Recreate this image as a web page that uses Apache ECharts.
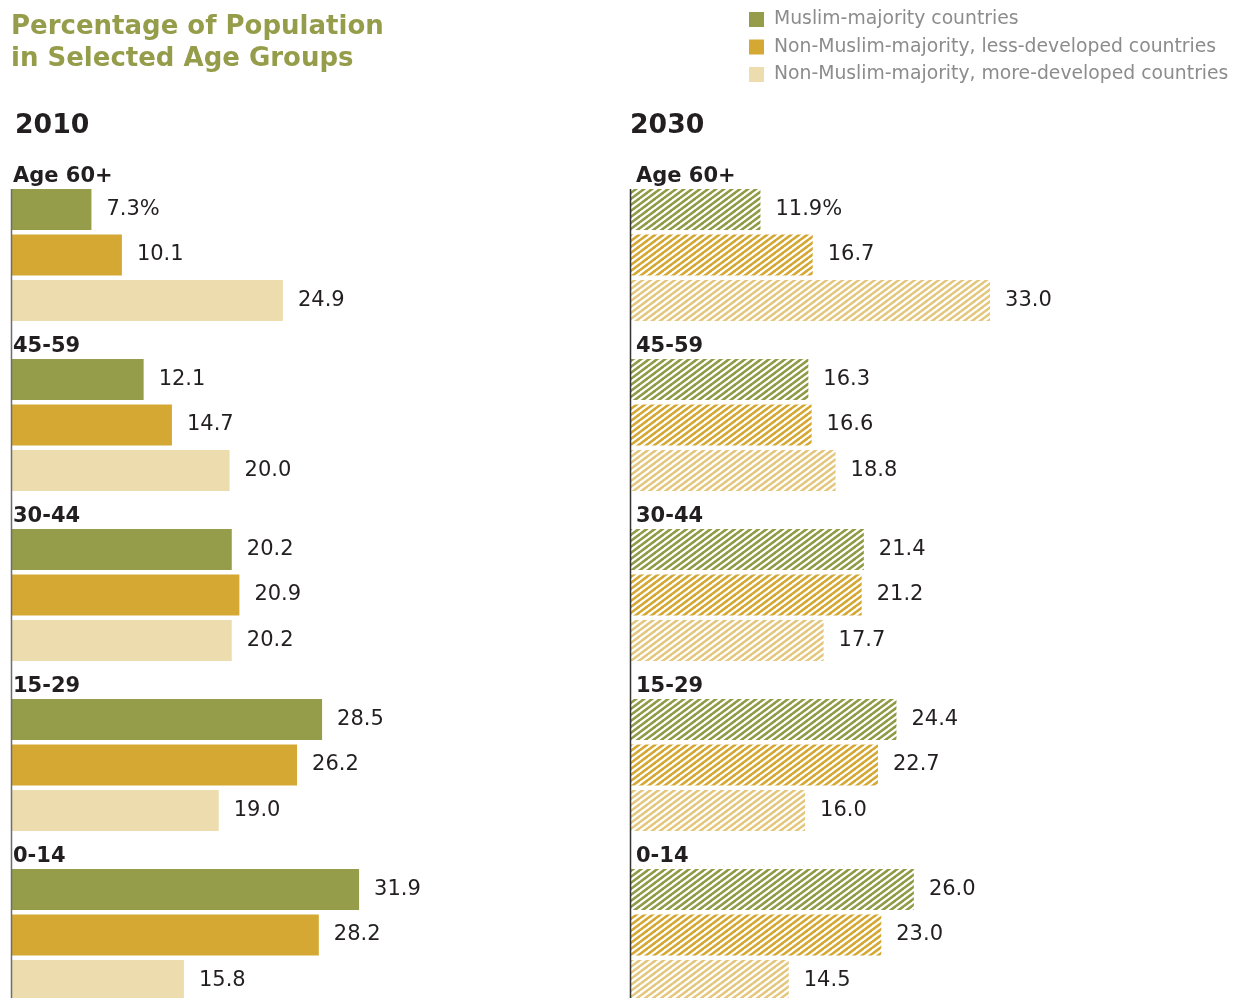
<!DOCTYPE html>
<html><head><meta charset="utf-8">
<script src="https://cdn.jsdelivr.net/npm/echarts@6/dist/echarts.min.js"></script>
<style>html,body{margin:0;padding:0;background:#fff}#c{width:1239px;height:998px}</style>
</head><body><div id="c"></div>
<script>
const ageGroups = ['Age 60+', '45-59', '30-44', '15-29', '0-14'];
const seriesNames = ['Muslim-majority countries', 'Non-Muslim-majority, less-developed countries', 'Non-Muslim-majority, more-developed countries'];
const panelTitles = ['2010', '2030'];
const muslim2010 = [7.3, 12.1, 20.2, 28.5, 31.9];
const lessDev2010 = [10.1, 14.7, 20.9, 26.2, 28.2];
const moreDev2010 = [24.9, 20.0, 20.2, 19.0, 15.8];
const muslim2030 = [11.9, 16.3, 21.4, 24.4, 26.0];
const lessDev2030 = [16.7, 16.6, 21.2, 22.7, 23.0];
const moreDev2030 = [33.0, 18.8, 17.7, 16.0, 14.5];

const FONT = '"DejaVu Sans", Verdana, sans-serif';
const solidColors = ['#959d4a', '#d4a832', '#eddcae'];
const hatchColors = ['#919b46', '#d4a832', '#e4c87f'];

function makeHatch(color) {
  const w = 8, h = 6;
  const c = document.createElement('canvas');
  c.width = w; c.height = h;
  const ctx = c.getContext('2d');
  ctx.fillStyle = '#ffffff';
  ctx.fillRect(0, 0, w, h);
  ctx.strokeStyle = color;
  ctx.lineWidth = 2.6;
  ctx.beginPath();
  [-w, 0, w].forEach(function (dx) {
    ctx.moveTo(dx - w, 2 * h);
    ctx.lineTo(dx + 2 * w, -h);
  });
  ctx.stroke();
  return c;
}

const chart = echarts.init(document.getElementById('c'), null, { renderer: 'canvas' });

function barSeries(name, data, gridIdx, colorIdx, hatched) {
  return {
    type: 'bar',
    name: name,
    xAxisIndex: gridIdx,
    yAxisIndex: gridIdx,
    data: data,
    barWidth: 41,
    barGap: '11%',
    clip: false,
    itemStyle: {
      color: hatched ? { image: makeHatch(hatchColors[colorIdx]), repeat: 'repeat' } : solidColors[colorIdx]
    },
    label: {
      show: true,
      position: 'right',
      distance: 15,
      fontFamily: FONT,
      fontSize: 21,
      color: '#231f20',
      formatter: function (p) {
        const v = Number(p.value).toFixed(1);
        return (colorIdx === 0 && p.dataIndex === 0) ? v + '%' : v;
      }
    },
    emphasis: { disabled: true },
    animation: false
  };
}

function yAxisFor(gridIdx, margin) {
  return {
    type: 'category',
    gridIndex: gridIdx,
    data: ageGroups,
    inverse: true,
    boundaryGap: false,
    axisLine: { show: false },
    axisTick: { show: false },
    splitLine: { show: false },
    axisLabel: {
      inside: true,
      interval: 0,
      margin: margin,
      align: 'left',
      verticalAlign: 'bottom',
      padding: [0, 0, 68, 0],
      fontFamily: FONT,
      fontWeight: 'bold',
      fontSize: 21,
      color: '#231f20'
    }
  };
}

const option = {
  backgroundColor: '#ffffff',
  animation: false,
  textStyle: { fontFamily: FONT },
  title: [
    {
      text: 'Percentage of Population\nin Selected Age Groups',
      left: 11, top: 11, padding: 0,
      textStyle: { fontFamily: FONT, fontWeight: 'bold', fontSize: 26, lineHeight: 32, color: '#959d4a' }
    },
    {
      text: panelTitles[0], left: 15, top: 111, padding: 0,
      textStyle: { fontFamily: FONT, fontWeight: 'bold', fontSize: 26.7, lineHeight: 30, color: '#231f20' }
    },
    {
      text: panelTitles[1], left: 630, top: 111, padding: 0,
      textStyle: { fontFamily: FONT, fontWeight: 'bold', fontSize: 26.7, lineHeight: 30, color: '#231f20' }
    }
  ],
  legend: {
    data: seriesNames,
    orient: 'vertical',
    left: 749, top: 10, padding: 0,
    itemWidth: 15, itemHeight: 15, itemGap: 8.5,
    icon: 'rect',
    selectedMode: false,
    textStyle: { fontFamily: FONT, fontSize: 18.8, color: '#8c8c8c', padding: [0, 0, 0, 5] }
  },
  grid: [
    { left: 12, top: 255, width: 544, height: 680, containLabel: false },
    { left: 631, top: 255, width: 544, height: 680, containLabel: false }
  ],
  xAxis: [
    { type: 'value', gridIndex: 0, min: 0, max: 50, show: false },
    { type: 'value', gridIndex: 1, min: 0, max: 50, show: false }
  ],
  yAxis: [yAxisFor(0, 1), yAxisFor(1, 5)],
  series: [
    barSeries(seriesNames[0], muslim2010, 0, 0, false),
    barSeries(seriesNames[1], lessDev2010, 0, 1, false),
    barSeries(seriesNames[2], moreDev2010, 0, 2, false),
    barSeries(seriesNames[0], muslim2030, 1, 0, true),
    barSeries(seriesNames[1], lessDev2030, 1, 1, true),
    barSeries(seriesNames[2], moreDev2030, 1, 2, true)
  ]
};

chart.setOption(option);

// Vertical baseline for each panel, positioned from the library's own bar layout.
function baseline(seriesIndex, color) {
  let x, y;
  try {
    const l = chart.getModel().getSeriesByIndex(seriesIndex).getData().getItemLayout(0);
    x = l.x; y = l.y;
  } catch (e) {
    const p = chart.convertToPixel({ seriesIndex: seriesIndex }, [0, 0]);
    x = p[0]; y = p[1] - 66;
  }
  return {
    type: 'line',
    shape: { x1: x - 0.5, y1: y, x2: x - 0.5, y2: chart.getHeight() },
    style: { stroke: color, lineWidth: 1.5 },
    z: 10
  };
}
chart.setOption({ graphic: [baseline(0, '#6e6e6e'), baseline(3, '#333333')] });
</script>
</body></html>
